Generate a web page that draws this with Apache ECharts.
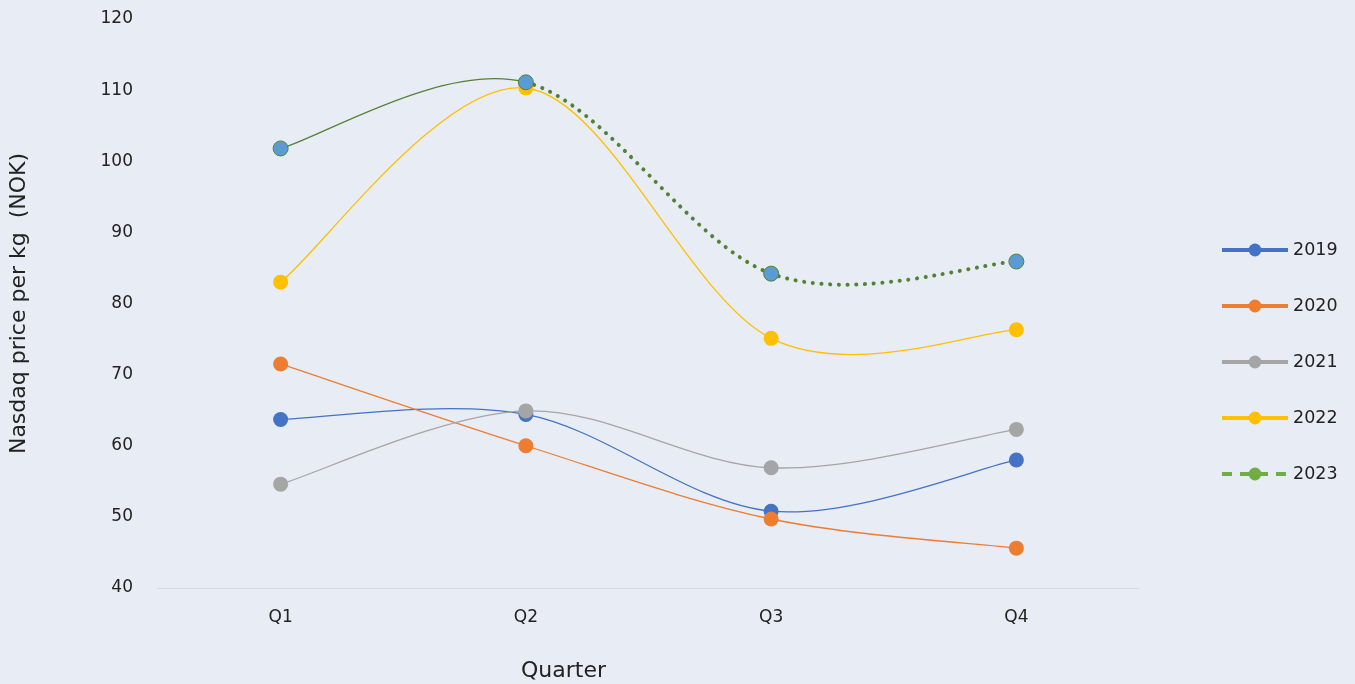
<!DOCTYPE html>
<html>
<head>
<meta charset="utf-8">
<script src="https://cdn.jsdelivr.net/npm/echarts@6/dist/echarts.min.js"></script>
<style>
  html, body { margin: 0; padding: 0; background: #e8ecf4; }
  #chart { width: 1355px; height: 684px; }
</style>
</head>
<body>
<div id="chart"></div>
<script>
const quarters = ['Q1', 'Q2', 'Q3', 'Q4'];
const years = ['2019', '2020', '2021', '2022', '2023'];
const y2019 = [63.7, 64.4, 50.8, 58.0];
const y2020 = [71.5, 60.0, 49.7, 45.6];
const y2021 = [54.6, 64.9, 56.9, 62.3];
const y2022 = [83.0, 110.3, 75.1, 76.3];
const y2023 = [101.8, 111.1, 84.2, 85.9];
// 2023: solid up to Q2, dotted after
const splitIdx = 1;

const font = '"DejaVu Sans", sans-serif';
const colors = ['#4472c4', '#ed7d31', '#a5a5a5', '#ffc000', '#70ad47'];
const green = '#548235';
const chart = echarts.init(document.getElementById('chart'));

// Excel-like smoothed curve (catmull-rom, overshoot allowed),
// drawn between data indices a..b through the axis scales
function curve(name, values, color, a, b, lineStyle) {
  return {
    name, type: 'custom', silent: true, z: 2,
    data: values.map((v, i) => [i, v]),
    encode: { x: 0, y: 1 },
    renderItem(params, api) {
      if (params.dataIndex !== 0) return;
      const p = values.map((v, i) => api.coord([i, v]));
      const at = i => p[Math.max(0, Math.min(p.length - 1, i))];
      let d = 'M' + p[a][0] + ',' + p[a][1];
      for (let i = a; i < b; i++) {
        const p0 = at(i - 1), p1 = p[i], p2 = p[i + 1], p3 = at(i + 2);
        const c1 = [p1[0] + (p2[0] - p0[0]) / 6, p1[1] + (p2[1] - p0[1]) / 6];
        const c2 = [p2[0] - (p3[0] - p1[0]) / 6, p2[1] - (p3[1] - p1[1]) / 6];
        d += 'C' + c1 + ' ' + c2 + ' ' + p2;
      }
      return {
        type: 'path', shape: { pathData: d },
        style: Object.assign({ fill: 'none', stroke: color, lineWidth: 1.3 }, lineStyle)
      };
    }
  };
}

function markers(name, data, color, border) {
  return {
    name, type: 'line', data, z: 3,
    symbol: 'circle', symbolSize: 15, showSymbol: true,
    itemStyle: border ? { color, borderColor: border, borderWidth: 1 } : { color },
    lineStyle: { opacity: 0 },
    emphasis: { disabled: true }
  };
}

function legendItem(name, color, type) {
  return { name, itemStyle: { color, borderWidth: 0 },
    lineStyle: { color, width: 4, opacity: 1, type: type || 'solid' } };
}

chart.setOption({
  backgroundColor: '#e8ecf4',
  animation: false,
  textStyle: { fontFamily: font },
  grid: { left: 158, right: 216, top: 19, bottom: 96, outerBoundsMode: 'none', containLabel: false },
  legend: {
    orient: 'vertical', left: 1215, top: 236,
    itemWidth: 66, itemHeight: 16, itemGap: 38,
    textStyle: { fontSize: 17.5, color: '#222', fontFamily: font, lineHeight: 16 },
    data: years.map((y, i) => legendItem(y, colors[i], i === 4 ? [10, 8] : 'solid'))
  },
  xAxis: {
    type: 'category', data: quarters, boundaryGap: true,
    axisLine: { lineStyle: { color: '#d4d8de', width: 1 } },
    axisTick: { show: false },
    axisLabel: { fontSize: 17, color: '#222', margin: 21 },
    name: 'Quarter', nameLocation: 'middle', nameGap: 72,
    nameTextStyle: { fontSize: 22, color: '#222', padding: [0, 170, 0, 0] }
  },
  yAxis: {
    type: 'value', min: 40, max: 120, interval: 10,
    axisLine: { show: false }, axisTick: { show: false },
    splitLine: { show: false },
    axisLabel: { fontSize: 17, color: '#222', margin: 25 },
    name: 'Nasdaq price per kg  (NOK)', nameLocation: 'middle', nameGap: 128,
    nameTextStyle: { fontSize: 22, color: '#222' }
  },
  series: [
    curve('c2019', y2019, colors[0], 0, 3),
    curve('c2020', y2020, colors[1], 0, 3),
    curve('c2021', y2021, colors[2], 0, 3),
    curve('c2022', y2022, colors[3], 0, 3),
    curve('c2023a', y2023, green, 0, splitIdx),
    curve('c2023b', y2023, green, splitIdx, 3, { lineWidth: 4, lineDash: [0.1, 8.6], lineCap: 'round' }),
    markers('2019', y2019, colors[0]),
    markers('2020', y2020, colors[1]),
    markers('2021', y2021, colors[2]),
    markers('2022', y2022, colors[3]),
    markers('2023', y2023, '#5b9bd5', green)
  ]
});
</script>
</body>
</html>
